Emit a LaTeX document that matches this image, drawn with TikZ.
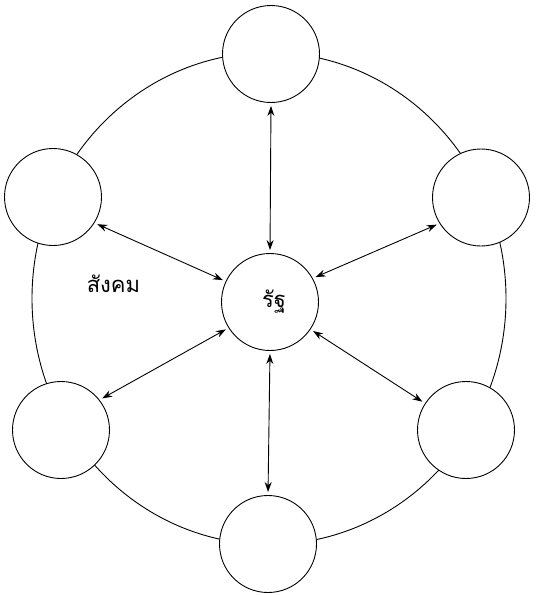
\documentclass[tikz,border=0pt]{standalone}
\usepackage{fontspec}
\newfontfamily\thaifont[Script=Thai]{Loma}
\usetikzlibrary{arrows.meta}
\begin{document}
\begin{tikzpicture}[x=1pt,y=-1pt,
  ring/.style={draw,circle,fill=white,line width=0.9pt,minimum size=97pt,inner sep=0pt},
  link/.style={line width=0.9pt,{Stealth[length=10pt,width=7pt]}-{Stealth[length=10pt,width=7pt]},shorten <=3pt,shorten >=3pt}]
\useasboundingbox (0,0) rectangle (541,595);
\draw[line width=0.9pt] (269,298.5) ellipse [x radius=237, y radius=246];
\node[ring] (c) at (270,302) {};
\node[ring] (t) at (271,54) {};
\node[ring] (ul) at (53,197) {};
\node[ring] (ur) at (481,197.5) {};
\node[ring] (ll) at (61,430) {};
\node[ring] (lr) at (466,430) {};
\node[ring] (b) at (268,544) {};
\node[font=\thaifont\fontsize{22}{26}\selectfont,anchor=base] (s) at (113.5,292) {สังคม};
\node[font=\thaifont\fontsize{22}{26}\selectfont,anchor=base] (r) at (274,307) {รัฐ};
\draw[link] (c.90) -- (t.270);
\draw[link] (c.155) -- (ul.-32);
\draw[link] (c.29) -- (ur.212);
\draw[link] (c.212) -- (ll.38);
\draw[link] (c.-34) -- (lr.147);
\draw[link] (c.270) -- (b.90);
\end{tikzpicture}
\end{document}
